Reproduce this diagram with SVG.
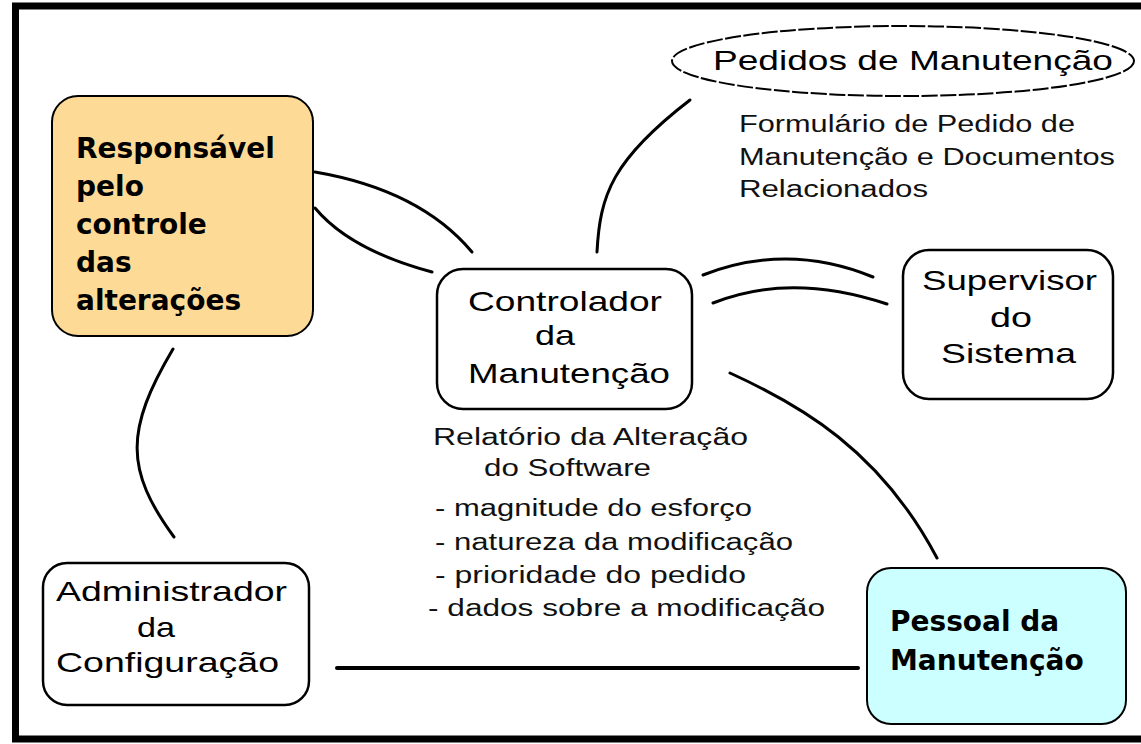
<svg xmlns="http://www.w3.org/2000/svg" width="1141" height="744" viewBox="0 0 1141 744">
<style>
.box{fill:#fff;stroke:#000;stroke-width:2.5}
.t{font-family:"Liberation Sans",Arial,sans-serif;font-size:28px;fill:#000}
.s{font-family:"Liberation Sans",Arial,sans-serif;font-size:23px;fill:#111}
.b{font-family:"DejaVu Sans",Verdana,sans-serif;font-weight:bold;font-size:28px;fill:#000}
.c{fill:none;stroke:#000;stroke-width:3;stroke-linecap:round}
</style>
<rect x="0" y="0" width="1141" height="744" fill="#fff"/>
<rect x="15.5" y="6" width="1140" height="733" fill="none" stroke="#000" stroke-width="7"/>
<g id="connectors">
<path class="c" d="M315,172 Q420,190 472,252"/>
<path class="c" d="M315,208 Q350,250 432,272"/>
<path class="c" d="M597,252 C600,195 612,160 690,100"/>
<path class="c" d="M703,275 Q788,242 873,277"/>
<path class="c" d="M713,303 Q790,272 887,304"/>
<path class="c" d="M730,373 C800,405 880,450 937,558"/>
<path class="c" d="M173,349 C125,430 125,470 174,537"/>
<path class="c" d="M337,668 L858,668" style="stroke-width:4"/>
</g>
<g id="responsavel">
<rect x="52" y="96" width="261" height="240" rx="26" fill="#FDDA95" stroke="#000" stroke-width="2"/>
<text class="b" x="76" y="158">Responsável</text>
<text class="b" x="76" y="196">pelo</text>
<text class="b" x="76" y="234">controle</text>
<text class="b" x="76" y="272">das</text>
<text class="b" x="76" y="310">alterações</text>
</g>
<g id="pedidos">
<ellipse cx="903" cy="61" rx="231" ry="35" fill="none" stroke="#000" stroke-width="2" stroke-dasharray="16,2.5"/>
<text class="t" x="713" y="70" textLength="400" lengthAdjust="spacingAndGlyphs">Pedidos de Manutenção</text>
<text class="s" x="739" y="132" textLength="336" lengthAdjust="spacingAndGlyphs">Formulário de Pedido de</text>
<text class="s" x="739" y="165" textLength="376" lengthAdjust="spacingAndGlyphs">Manutenção e Documentos</text>
<text class="s" x="739" y="197" textLength="189" lengthAdjust="spacingAndGlyphs">Relacionados</text>
</g>
<g id="controlador">
<rect class="box" x="437" y="269" width="255" height="140" rx="26"/>
<text class="t" x="468" y="311" textLength="194" lengthAdjust="spacingAndGlyphs">Controlador</text>
<text class="t" x="535" y="345" textLength="40" lengthAdjust="spacingAndGlyphs">da</text>
<text class="t" x="468" y="383" textLength="202" lengthAdjust="spacingAndGlyphs">Manutenção</text>
</g>
<g id="relatorio">
<text class="s" x="433" y="445" textLength="315" lengthAdjust="spacingAndGlyphs">Relatório da Alteração</text>
<text class="s" x="484" y="476" textLength="167" lengthAdjust="spacingAndGlyphs">do Software</text>
<text class="s" x="435" y="516" textLength="317" lengthAdjust="spacingAndGlyphs">- magnitude do esforço</text>
<text class="s" x="435" y="550" textLength="358" lengthAdjust="spacingAndGlyphs">- natureza da modificação</text>
<text class="s" x="435" y="583" textLength="311" lengthAdjust="spacingAndGlyphs">- prioridade do pedido</text>
<text class="s" x="428" y="616" textLength="397" lengthAdjust="spacingAndGlyphs">- dados sobre a modificação</text>
</g>
<g id="supervisor">
<rect class="box" x="903" y="250" width="210" height="149" rx="26"/>
<text class="t" x="922" y="290" textLength="175" lengthAdjust="spacingAndGlyphs">Supervisor</text>
<text class="t" x="990" y="327" textLength="42" lengthAdjust="spacingAndGlyphs">do</text>
<text class="t" x="941" y="363" textLength="135" lengthAdjust="spacingAndGlyphs">Sistema</text>
</g>
<g id="administrador">
<rect class="box" x="43" y="563" width="266" height="142" rx="24"/>
<text class="t" x="56" y="601" textLength="231" lengthAdjust="spacingAndGlyphs">Administrador</text>
<text class="t" x="137" y="637" textLength="38" lengthAdjust="spacingAndGlyphs">da</text>
<text class="t" x="56" y="672" textLength="223" lengthAdjust="spacingAndGlyphs">Configuração</text>
</g>
<g id="pessoal">
<rect x="867" y="568" width="259" height="156" rx="24" fill="#CCFFFF" stroke="#000" stroke-width="2"/>
<text class="b" x="890" y="631">Pessoal da</text>
<text class="b" x="890" y="670">Manutenção</text>
</g>
</svg>
